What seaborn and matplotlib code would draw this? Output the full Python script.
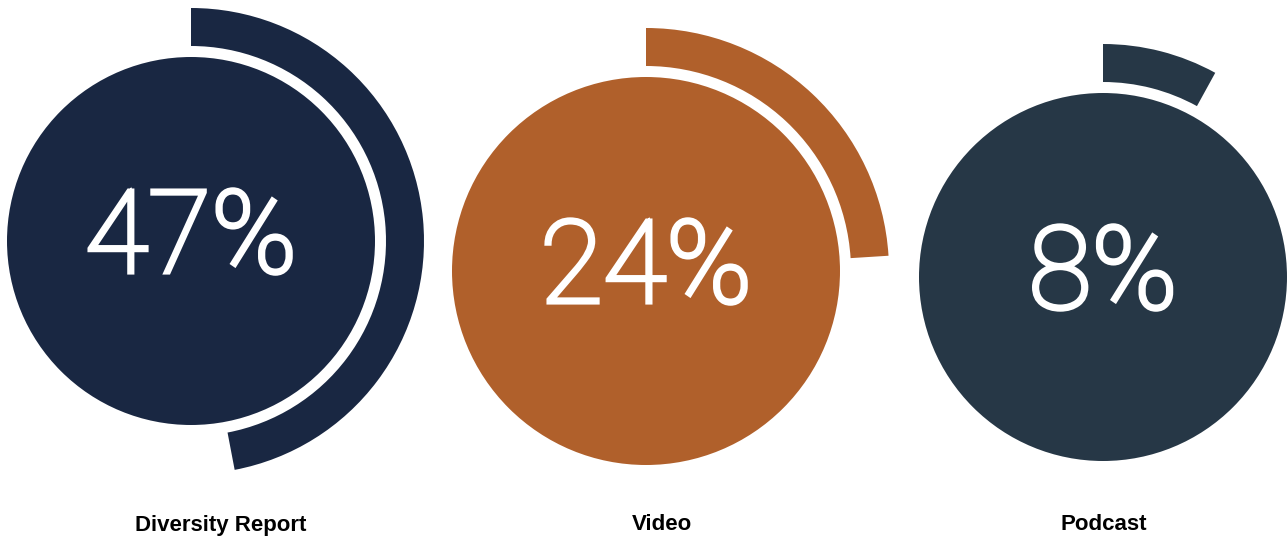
import matplotlib
matplotlib.use("Agg")
import matplotlib.pyplot as plt
import matplotlib.patheffects as pe
from matplotlib.patches import Circle, Wedge
import seaborn as sns

# ---- data ----
categories = ["Diversity Report", "Video", "Podcast"]
percentages = [47, 24, 8]
colors = ["#192742", "#b0602b", "#263746"]

# ---- layout (pixels, y measured from top) ----
W, H = 1288, 540
centers = [(191, 241), (646, 271), (1103, 277)]
radii = [184, 194, 184]
gap = 11
ring_width = 38
label_x = [221, 662, 1104]
label_y = 525

sns.set_theme(style="white")
plt.rcParams["font.family"] = ["Roboto", "DejaVu Sans"]

fig = plt.figure(figsize=(W / 100, H / 100), dpi=100)
ax = fig.add_axes([0, 0, 1, 1])
ax.set_xlim(0, W)
ax.set_ylim(0, H)
ax.set_aspect("equal")
ax.axis("off")

for cat, pct, col, (cx, cy), r, lx in zip(categories, percentages, colors,
                                          centers, radii, label_x):
    y = H - cy
    ax.add_patch(Circle((cx, y), r, facecolor=col, edgecolor="none"))
    sweep = pct / 100 * 360
    r_in = r + gap
    ax.add_patch(Wedge((cx, y), r_in + ring_width, 90 - sweep, 90,
                       width=ring_width, facecolor=col, edgecolor="none"))
    ax.text(cx, y, f"{pct}%", ha="center", va="center", color="white",
            fontsize=83, fontweight="light", family=["Roboto", "DejaVu Sans"],
            path_effects=[pe.withStroke(linewidth=3.0, foreground="white",
                                        joinstyle="miter", capstyle="butt")])
    ax.text(lx, H - label_y, cat, ha="center", va="center", color="black",
            fontsize=16, fontweight="bold",
            family=["Liberation Sans", "DejaVu Sans"])

fig.savefig("out.png", dpi=100, facecolor="white")
